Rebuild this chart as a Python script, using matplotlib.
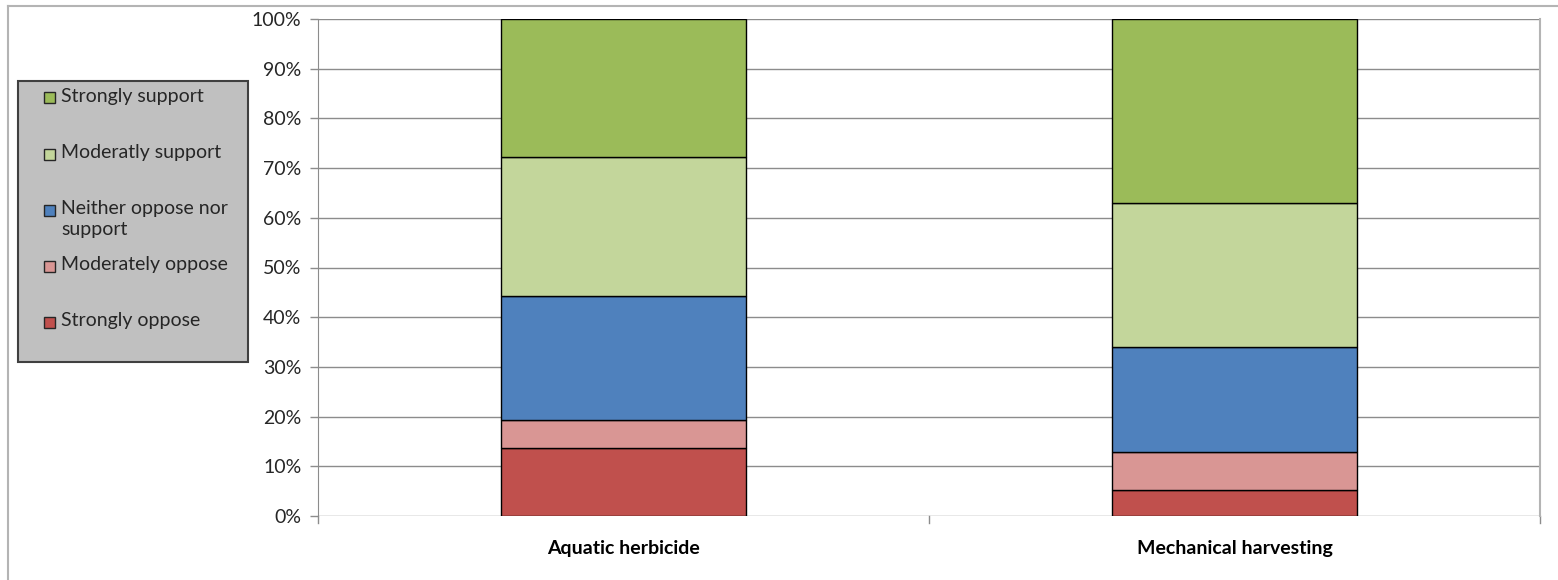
import matplotlib
matplotlib.use("Agg")
import matplotlib.pyplot as plt
from matplotlib.patches import Rectangle
from matplotlib.lines import Line2D
from matplotlib.ticker import FixedLocator, FuncFormatter

# Survey responses (% of respondents) for each management option
categories = ["Aquatic herbicide", "Mechanical harvesting"]
strongly_oppose = [13.7, 5.2]
moderately_oppose = [5.6, 7.7]
neither = [25.0, 21.2]
moderately_support = [27.9, 28.9]
strongly_support = [27.8, 37.0]

series_labels = ["Strongly oppose", "Moderately oppose",
                 "Neither oppose nor\nsupport", "Moderatly support",
                 "Strongly support"]
series_colors = ["#C0504D", "#D99694", "#4F81BD", "#C3D69B", "#9BBB59"]
y_ticks = [0, 10, 20, 30, 40, 50, 60, 70, 80, 90, 100]

plt.rcParams["font.family"] = ["Lato", "DejaVu Sans"]

W, H = 1558, 580
fig = plt.figure(figsize=(W / 100, H / 100), dpi=100)
fig.patch.set_facecolor("white")

# outer chart frame (top and left edges)
fig.add_artist(Line2D([7.5 / W, 1], [1 - 6 / H, 1 - 6 / H], color="#B4B4B4",
                      lw=1.5, transform=fig.transFigure))
fig.add_artist(Line2D([7.5 / W, 7.5 / W], [0, 1 - 6 / H], color="#B4B4B4",
                      lw=1.5, transform=fig.transFigure))

ax = fig.add_axes([318 / W, 1 - 516 / H, (1540 - 318) / W, (516 - 19) / H])

series = [strongly_oppose, moderately_oppose, neither,
          moderately_support, strongly_support]
x = list(range(len(categories)))
bottom = [0.0] * len(categories)
containers = []
for vals, lab, col in zip(series, series_labels, series_colors):
    bc = ax.bar(x, vals, width=0.4, bottom=bottom, color=col,
                edgecolor="black", linewidth=1.0, label=lab, zorder=3)
    containers.append(bc)
    bottom = [b + v for b, v in zip(bottom, vals)]

ax.set_xlim(-0.5, len(categories) - 0.5)
ax.set_ylim(0, 100)
ax.yaxis.set_major_locator(FixedLocator(y_ticks))
ax.yaxis.set_major_formatter(FuncFormatter(lambda v, p: f"{int(v)}%"))
ax.yaxis.grid(True, color="#8C8C8C", lw=1.0, zorder=0)
ax.set_axisbelow(True)

ax.set_xticks(x)
ax.set_xticklabels(categories, fontweight="bold", fontsize=14)
ax.tick_params(axis="x", length=0, pad=17, colors="#000000")
# category separator tick marks
for xb in [-0.5, 0.5, 1.5]:
    ax.plot([xb, xb], [0, -1.4], color="#8C8C8C", lw=1.0, clip_on=False,
            zorder=2)

ax.tick_params(axis="y", length=6, width=1.0, color="#8C8C8C",
               labelsize=14, pad=6, labelcolor="#262626")

for side in ["top", "bottom"]:
    ax.spines[side].set_visible(False)
ax.spines["left"].set_color("#8C8C8C")
ax.spines["right"].set_color("#B4B4B4")
ax.spines["right"].set_linewidth(1.5)

# legend panel
lx0, ly0, lx1, ly1 = 18, 81, 248, 362
fig.add_artist(Rectangle((lx0 / W, 1 - ly1 / H), (lx1 - lx0) / W,
                         (ly1 - ly0) / H, facecolor="#C0C0C0",
                         edgecolor="#404040", lw=1.5,
                         transform=fig.transFigure))
entry_y = [98, 154, 210, 266, 322]
for i, bc in enumerate(reversed(containers)):
    yy = entry_y[i]
    face = bc.patches[0].get_facecolor()
    fig.add_artist(Rectangle((44 / W, 1 - (yy + 5.5) / H), 11 / W, 11 / H,
                             facecolor=face, edgecolor="#262626", lw=1.0,
                             transform=fig.transFigure))
    label = bc.get_label()
    fig.text(61 / W, 1 - (yy - 10) / H, label, ha="left", va="top",
             fontsize=14, color="#262626", linespacing=1.25)

fig.savefig("out.png", dpi=100, facecolor="white")
